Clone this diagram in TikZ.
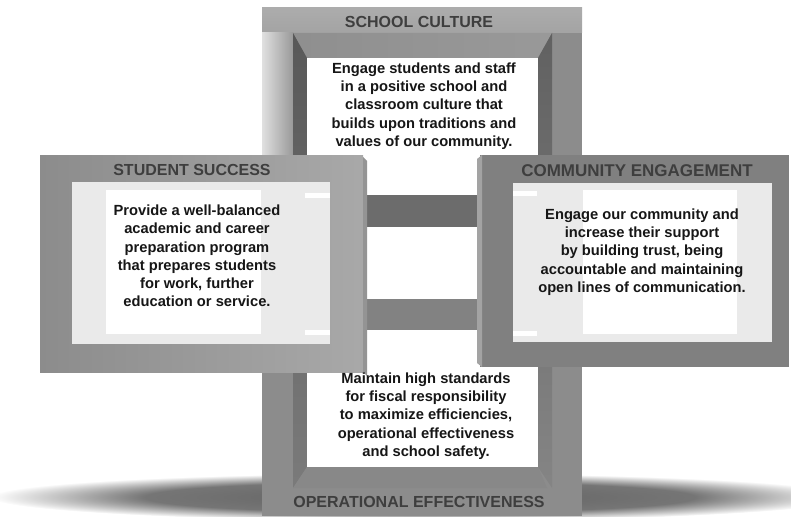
\documentclass[tikz,border=0pt]{standalone}
\usepackage{fontspec}
\setmainfont{Liberation Sans}
\usepackage{xcolor}
\usepackage{tikz}
\usetikzlibrary{positioning}
\definecolor{framegrey}{RGB}{140,140,140}
\definecolor{framedark}{RGB}{128,128,128}
\definecolor{framelight}{RGB}{172,172,172}
\definecolor{bevdark}{RGB}{88,88,88}
\definecolor{bevmid}{RGB}{136,136,136}
\definecolor{glassgrey}{RGB}{234,234,234}
\definecolor{titlegrey}{RGB}{62,62,62}
\definecolor{bodyink}{RGB}{22,22,22}
\definecolor{barhi}{RGB}{108,108,108}
\definecolor{barlo}{RGB}{130,130,130}
\pgfdeclareradialshading{floorshadow}{\pgfpoint{0bp}{0bp}}{%
  color(0bp)=(black!62); color(16bp)=(black!54); color(25bp)=(white);
  color(50bp)=(white)}
\tikzset{
  paneltxt/.style={align=center,text=bodyink,inner sep=0pt,
                   font=\fontsize{14.7}{18.2}\selectfont\bfseries},
  paneltitle/.style={text=titlegrey,inner sep=0pt,
                     font=\fontsize{16}{18}\selectfont\bfseries},
  glass/.style={fill=glassgrey},
  pane/.style={fill=white},
}

\begin{document}
\begin{tikzpicture}[x=1pt,y=-1pt]
  \useasboundingbox (0,0) rectangle (791,516);

  % floor shadow
  \shade[shading=floorshadow] (420,497) ellipse (430 and 24);

  % upright frame
  \fill[framegrey] (262,8) rectangle (582,516);
  \shade[top color=framelight,bottom color=black!36] (262,8) rectangle (582,33);
  \shade[left color=black!12,right color=black!40] (262,33) rectangle (293,160);
  \shade[left color=black!44,right color=black!40]
    (293,33) -- (552,33) -- (538,58) -- (307,58) -- cycle;
  \shade[top color=bevdark,bottom color=black!52]
    (293,33) -- (307,58) -- (307,467) -- (293,488) -- cycle;
  \shade[top color=black!62,bottom color=black!48]
    (552,33) -- (552,488) -- (538,467) -- (538,58) -- cycle;
  \fill[bevmid] (293,488) -- (307,467) -- (538,467) -- (547,488) -- cycle;
  \fill[pane] (307,58) rectangle (538,467);

  % cross bars
  \fill[barhi] (355,195) rectangle (490,227);
  \fill[barlo] (355,299) rectangle (490,330);

  % left frame
  \shade[left color=framegrey,right color=black!34] (40,155) rectangle (363,372);
  \fill[black!42] (363,157) -- (367,161) -- (367,376) -- (363,372) -- cycle;
  \fill[glass] (72,182) rectangle (330,344);
  \fill[pane] (106,190) rectangle (261,334);
  \fill[pane] (305,193) rectangle (330,198);
  \fill[pane] (305,330) rectangle (330,335);

  % right frame
  \fill[framedark] (480,155) rectangle (789,367);
  \fill[black!36] (477,159) -- (482,155) -- (482,367) -- (477,363) -- cycle;
  \fill[glass] (513,183) rectangle (772,342);
  \fill[pane] (583,190) rectangle (737,334);
  \fill[pane] (513,191) rectangle (537,196);
  \fill[pane] (513,331) rectangle (537,336);

  % headings
  \node[paneltitle] (culturehd) at (419,22)  {SCHOOL CULTURE};
  \node[paneltitle] (studenthd) at (192,170) {STUDENT SUCCESS};
  \node[paneltitle,font=\fontsize{17}{19}\selectfont\bfseries]
    (communityhd) at (637,171) {COMMUNITY ENGAGEMENT};
  \node[paneltitle] (operhd) at (419,502) {OPERATIONAL EFFECTIVENESS};

  % goals
  \node[paneltxt] (culturetx) at (424,106)
    {Engage students and staff\\in a positive school and\\classroom culture that\\
     builds upon traditions and\\values of our community.};
  \node[paneltxt] (studenttx) at (197,256)
    {Provide a well-balanced\\academic and career\\preparation program\\
     that prepares students\\for work, further\\education or service.};
  \node[paneltxt] (communitytx) at (642,252)
    {Engage our community and\\increase their support\\by building trust, being\\
     accountable and maintaining\\open lines of communication.};
  \node[paneltxt] (opertx) at (426,416)
    {Maintain high standards\\for fiscal responsibility\\to maximize efficiencies,\\
     operational effectiveness\\and school safety.};
\end{tikzpicture}
\end{document}
